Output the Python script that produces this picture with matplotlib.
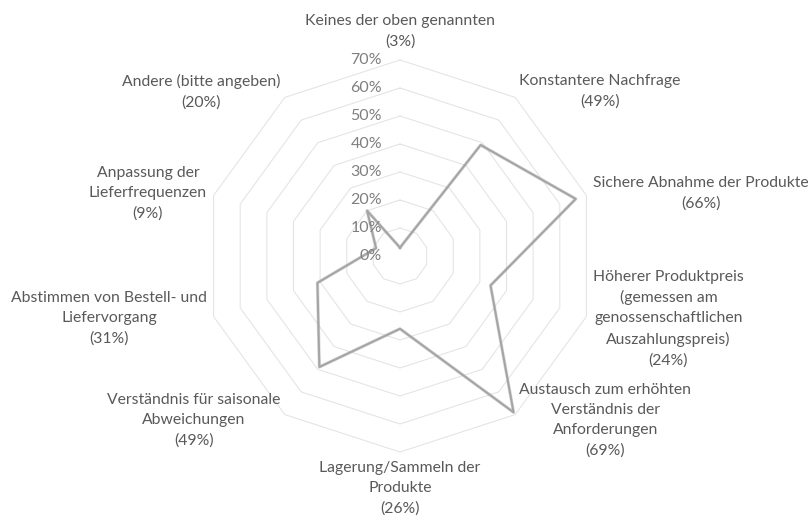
#!/usr/bin/env python3
# coding: utf-8

import numpy as np
from matplotlib import pyplot as plt

# categories clockwise from the top
labels = [
    "Keines der oben genannten\n(3%)",
    "Konstantere Nachfrage\n(49%)",
    "Sichere Abnahme der Produkte\n(66%)",
    "Höherer Produktpreis\n(gemessen am\ngenossenschaftlichen\nAuszahlungspreis)\n(24%)",
    "Austausch zum erhöhten\nVerständnis der\nAnforderungen\n(69%)",
    "Lagerung/Sammeln der\nProdukte\n(26%)",
    "Verständnis für saisonale\nAbweichungen\n(49%)",
    "Abstimmen von Bestell- und\nLiefervorgang\n(31%)",
    "Anpassung der\nLieferfrequenzen\n(9%)",
    "Andere (bitte angeben)\n(20%)",
]
# plotted values as drawn in the chart (percent)
values = [3, 49, 66, 34, 69, 26, 49, 31, 9, 20]
ticks = [0, 10, 20, 30, 40, 50, 60, 70]

n = len(labels)
ang = np.pi / 2 - np.arange(n) * 2 * np.pi / n
rmax = ticks[-1]

plt.rcParams["font.family"] = ["Lato", "DejaVu Sans"]
fig = plt.figure(figsize=(8.11, 5.17), dpi=100)
ax = fig.add_axes([0, 0, 1, 1])
# 2.8 px per percent, centre at (400, 256) px
k = 196 / rmax
ax.set_xlim(-400 / k, 411 / k)
ax.set_ylim(-261 / k, 256 / k)
ax.axis("off")

# decagon grid
ca = np.append(ang, ang[0])
for t in ticks[1:]:
    ax.plot(t * np.cos(ca), t * np.sin(ca), color="#e3e3e3", lw=0.75, zorder=1)

# series
v = np.append(values, values[0])
ax.plot(v * np.cos(ca), v * np.sin(ca), color="#8c8c8c", lw=2.4, alpha=0.3, zorder=2)
ax.plot(v * np.cos(ca), v * np.sin(ca), color="#a5a5a5", lw=1.5, zorder=3)

# radial tick labels
for t in ticks:
    ax.annotate("%d%%" % t, (0, t), xytext=(-13, 0), textcoords="offset points",
                ha="right", va="center", fontsize=11.5, color="#7f7f7f", zorder=4)

# category labels, anchored a little outside the outer ring
rl = rmax * 1.036
for i, lab in enumerate(labels):
    x = rl * np.cos(ang[i])
    y = rl * np.sin(ang[i])
    c = np.cos(ang[i])
    off = (0, 0)
    if abs(c) < 1e-6:
        ha = "center"
        if y > 0:
            va, off = "bottom", (0, 3)
        else:
            va, off = "top", (0, -1.5)
    elif c > 0:
        ha, va = "left", "center"
    else:
        ha, va = "right", "center"
    ax.annotate(lab, (x, y), xytext=off, textcoords="offset points",
                ha=ha, va=va, multialignment="center", fontsize=11.3,
                color="#595959", linespacing=1.55, annotation_clip=False)

plt.savefig("out.png", dpi=100)
